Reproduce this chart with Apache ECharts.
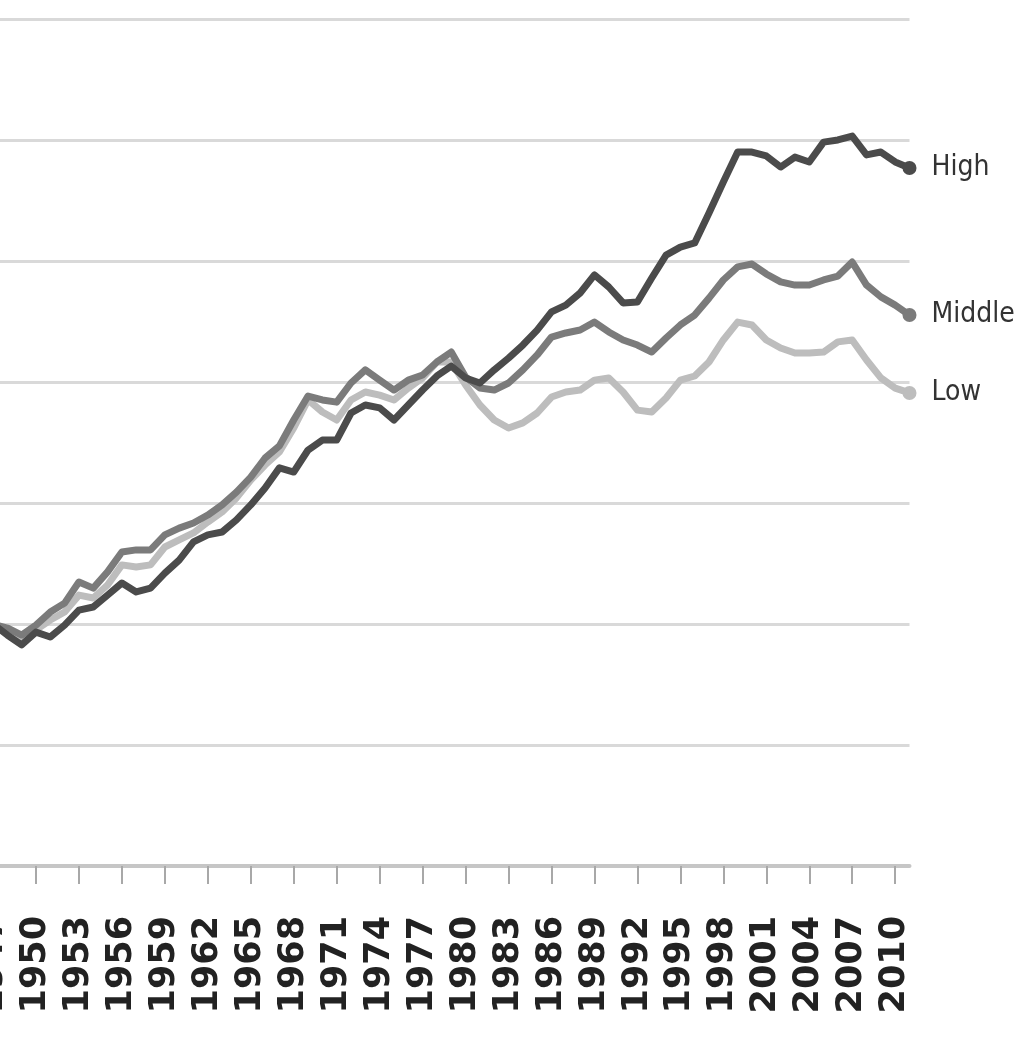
<!DOCTYPE html>
<html>
<head>
<meta charset="utf-8">
<script src="https://cdn.jsdelivr.net/npm/echarts@6/dist/echarts.min.js"></script>
<style>
  html, body { margin: 0; padding: 0; background: #ffffff; }
  #chart { width: 1016px; height: 1039px; }
</style>
</head>
<body>
<div id="chart"></div>
<script>
// Years 1947..2011
const years = [];
for (let y = 1947; y <= 2011; y++) years.push(String(y));

// Index values (1947 = 100)
const highValues = [
  100, 95.5, 91.4, 96.7, 94.7, 99.6, 105.8, 107.1, 112.0, 117.0,
  113.3, 114.9, 121.1, 126.5, 134.0, 136.9, 138.1, 143.1, 149.3, 156.3,
  164.6, 162.9, 172.0, 176.1, 176.1, 187.3, 190.6, 189.4, 184.4, 190.6,
  196.8, 202.6, 206.7, 201.8, 199.7, 205.1, 210.0, 215.4, 221.6, 229.1,
  231.9, 236.9, 244.4, 239.4, 232.8, 233.2, 243.1, 252.6, 255.9, 257.6,
  270.0, 282.8, 295.2, 295.2, 293.6, 289.0, 293.1, 291.1, 299.3, 300.2,
  301.8, 294.0, 295.2, 291.1, 288.6
];
const middleValues = [
  100, 98.4, 95.5, 99.6, 105.0, 108.7, 117.4, 114.9, 121.6, 129.8,
  130.7, 130.7, 136.9, 139.7, 141.8, 145.1, 149.3, 154.6, 160.8, 168.7,
  173.7, 184.4, 194.3, 192.7, 191.8, 199.7, 205.1, 200.9, 196.8, 200.9,
  203.0, 208.4, 212.5, 202.2, 197.6, 196.8, 199.7, 205.1, 211.3, 218.7,
  220.4, 221.6, 224.9, 220.8, 217.5, 215.4, 212.5, 218.3, 223.7, 227.8,
  234.8, 242.3, 247.7, 248.9, 244.8, 241.5, 240.2, 240.2, 242.3, 243.9,
  249.7, 240.2, 235.3, 231.9, 227.8
];
const lowValues = [
  100, 97.6, 94.3, 97.6, 101.7, 105.0, 112.0, 110.8, 116.2, 124.5,
  123.6, 124.5, 131.9, 134.8, 137.7, 142.2, 146.4, 152.2, 159.6, 165.8,
  171.2, 181.1, 192.7, 187.7, 184.4, 192.7, 196.0, 194.7, 192.7, 197.6,
  201.8, 208.4, 208.4, 198.9, 190.6, 184.4, 181.1, 183.2, 187.3, 193.9,
  196.0, 196.8, 200.9, 201.8, 196.0, 188.5, 187.7, 193.5, 200.9, 202.6,
  208.4, 217.5, 224.9, 223.7, 217.5, 214.2, 212.1, 212.1, 212.5, 216.7,
  217.5, 209.2, 201.8, 197.6, 195.6
];
const seriesNames = ['Low', 'Middle', 'High'];
const seriesColors = ['#bdbdbd', '#7b7b7b', '#4b4b4b'];
const seriesData = [lowValues, middleValues, highValues];

const chart = echarts.init(document.getElementById('chart'));
const lastIndex = years.length - 1;

chart.setOption({
  animation: false,
  backgroundColor: '#ffffff',
  grid: {
    left: -7, right: 106.5, top: 19.5, bottom: 173,
    containLabel: false,
    outerBoundsMode: 'none'
  },
  xAxis: {
    type: 'category',
    data: years,
    boundaryGap: false,
    axisLine: { show: true, lineStyle: { color: '#c6c6c6', width: 4 } },
    axisTick: {
      show: true,
      length: 18,
      interval: function (i) { return i % 3 === 0; },
      lineStyle: { color: '#a8a8a8', width: 2 }
    },
    axisLabel: {
      show: true,
      rotate: 90,
      margin: 50,
      interval: function (i) { return i % 3 === 0; },
      fontFamily: 'DejaVu Sans',
      fontWeight: 'bold',
      fontSize: 35,
      color: '#222222'
    },
    splitLine: { show: false }
  },
  yAxis: {
    type: 'value',
    min: 0,
    max: 350,
    interval: 50,
    axisLine: { show: false },
    axisTick: { show: false },
    axisLabel: { show: false },
    splitLine: { show: true, lineStyle: { color: '#d9d9d9', width: 3 } }
  },
  series: seriesNames.map(function (name, k) {
    return {
      name: name,
      type: 'line',
      data: seriesData[k],
      smooth: false,
      showSymbol: true,
      symbol: 'circle',
      symbolSize: function (v, p) { return p.dataIndex === lastIndex ? 14 : 0; },
      itemStyle: { color: seriesColors[k] },
      lineStyle: { color: seriesColors[k], width: 7, join: 'round', cap: 'round' },
      emphasis: { disabled: true },
      endLabel: {
        show: true,
        formatter: '{a}',
        distance: 22,
        fontFamily: 'Liberation Sans Narrow, DejaVu Sans Condensed, Liberation Sans, sans-serif',
        fontSize: 28,
        color: '#333333'
      },
      z: 2 + k
    };
  })
});
</script>
</body>
</html>
